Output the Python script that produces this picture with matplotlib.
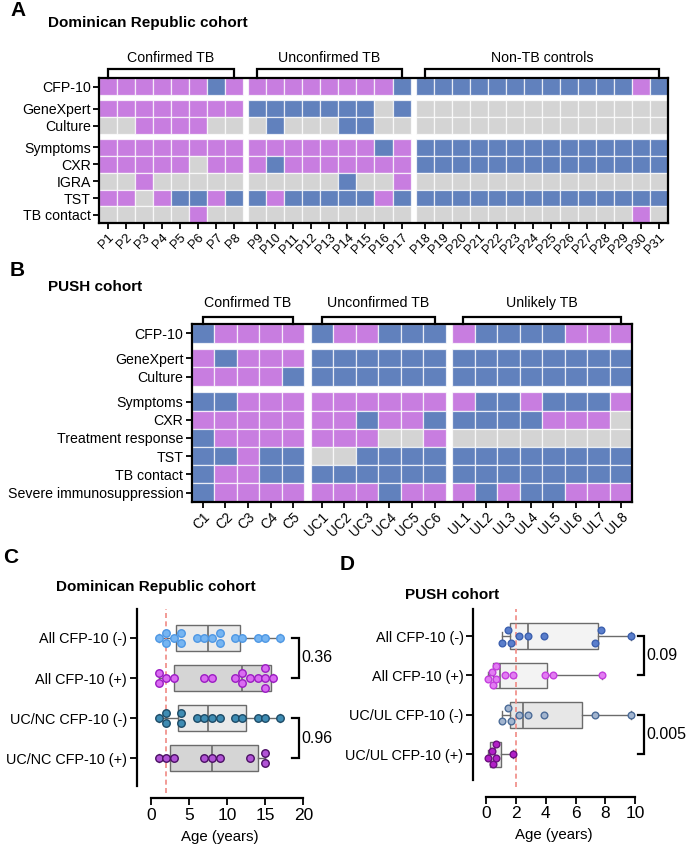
import numpy as np
import matplotlib

matplotlib.use("Agg")
import matplotlib.pyplot as plt
from matplotlib.patches import Rectangle

plt.rcParams["font.family"] = ["Liberation Sans", "DejaVu Sans"]

W, H = 688, 851

# ---------------- A: Dominican Republic heatmap ----------------
dr_patients = [f"P{i}" for i in range(1, 32)]
dr_groups = ["Confirmed TB", "Unconfirmed TB", "Non-TB controls"]
dr_group_sizes = [8, 9, 14]
dr_features = ["CFP-10", "GeneXpert", "Culture", "Symptoms", "CXR", "IGRA", "TST", "TB contact"]
dr_feature_blocks = [1, 2, 5]
# "+" positive, "-" negative, "." not done; patient groups split by spaces
dr_status = [
    "++++++-+ ++++++++- ------------+-",
    "++++++++ -------.- ..............",
    "..++++.. .-...--.. ..............",
    "++++++++ +++++++-+ --------------",
    "+++++.++ +-+++++++ --------------",
    "..+..... .....-..+ ..............",
    "++.+--+- -+-----+- --------------",
    ".....+.. ......... ............+.",
]

# ---------------- B: PUSH heatmap ----------------
push_patients = ["C1", "C2", "C3", "C4", "C5",
                 "UC1", "UC2", "UC3", "UC4", "UC5", "UC6",
                 "UL1", "UL2", "UL3", "UL4", "UL5", "UL6", "UL7", "UL8"]
push_groups = ["Confirmed TB", "Unconfirmed TB", "Unlikely TB"]
push_group_sizes = [5, 6, 8]
push_features = ["CFP-10", "GeneXpert", "Culture", "Symptoms", "CXR", "Treatment response",
                 "TST", "TB contact", "Severe immunosuppression"]
push_feature_blocks = [1, 2, 6]
push_status = [
    "-++++ -++--- +----+++",
    "+-+++ ------ --------",
    "++++- ------ --------",
    "--+++ ++++++ +--+---+",
    "+++++ ++-++- ----+++.",
    "-++++ +++..+ ........",
    "--+-- ..---- --------",
    "-++-- ------ --------",
    "-++++ +++-++ +-+--+++",
]

# ---------------- C: Dominican Republic ages ----------------
dr_box_labels = ["All CFP-10 (-)", "All CFP-10 (+)", "UC/NC CFP-10 (-)", "UC/NC CFP-10 (+)"]
dr_all_neg = [1, 2, 2, 3, 4, 4, 6, 7, 8, 9, 9, 11, 12, 14, 15, 17]
dr_all_pos = [1, 1, 2, 3, 7, 8, 11, 12, 12, 13, 14, 15, 15, 15, 16]
dr_ucnc_neg = [1, 2, 2, 4, 4, 6, 7, 8, 9, 11, 12, 14, 15, 17]
dr_ucnc_pos = [1, 2, 3, 7, 8, 9, 13, 15, 15]
dr_q1 = [3.25, 3.0, 3.5, 2.5]
dr_median = [7.5, 12.0, 7.5, 8.0]
dr_q3 = [11.75, 15.7, 12.5, 14.0]
dr_pvalues = ["0.36", "0.96"]

# ---------------- D: PUSH ages ----------------
push_box_labels = ["All CFP-10 (-)", "All CFP-10 (+)", "UC/UL CFP-10 (-)", "UC/UL CFP-10 (+)"]
push_all_neg = [1.09, 1.5, 1.67, 2.21, 2.79, 3.88, 7.3, 7.7, 9.71]
push_all_pos = [0.16, 0.38, 0.49, 0.67, 0.67, 1.27, 1.83, 3.95, 4.47, 7.79]
push_ucul_neg = [1.09, 1.5, 1.67, 2.21, 2.79, 3.88, 7.3, 9.71]
push_ucul_pos = [0.16, 0.38, 0.49, 0.67, 0.67, 1.83]
push_q1 = [1.6, 0.47, 1.6, 0.25]
push_median = [2.8, 0.97, 2.5, 0.58]
push_q3 = [7.5, 4.1, 6.45, 1.0]
push_pvalues = ["0.09", "0.005"]

CELL = {"+": "#C87DE0", "-": "#6181BD", ".": "#D4D4D4"}
BOXEDGE = "#6B6B6B"


def frac(x0, y0, x1, y1):
    return [x0 / W, 1 - y1 / H, (x1 - x0) / W, (y1 - y0) / H]


def heatmap(ax, status, features, blocks, labels, groups, sizes, gap_y, bracket_y, label_y, xfs):
    gap_x = 0.28
    xs = np.arange(len(labels)) + gap_x * np.repeat(np.arange(len(sizes)), sizes)
    ys = np.arange(len(features)) + gap_y * np.repeat(np.arange(len(blocks)), blocks)
    for r, row in enumerate(status):
        for c, code in enumerate(row.replace(" ", "")):
            ax.add_patch(Rectangle((xs[c], ys[r]), 1, 1, facecolor=CELL[code],
                                   edgecolor=(1, 1, 1, 0.75), lw=0.9))
    ax.set_xlim(0, xs[-1] + 1)
    ax.set_ylim(ys[-1] + 1, 0)
    ax.set_xticks(xs + 0.5, labels, rotation=45, ha="right", rotation_mode="anchor", fontsize=xfs)
    ax.set_yticks(ys + 0.5, features, fontsize=10.2)
    ax.tick_params(length=4, width=1.3, pad=2)
    for sp in ax.spines.values():
        sp.set_linewidth(1.6)
    starts = np.cumsum([0] + sizes[:-1])
    for name, s, n in zip(groups, starts, sizes):
        x0, x1 = xs[s] + 0.5, xs[s + n - 1] + 0.5
        ax.plot([x0, x0, x1, x1], [0, -bracket_y, -bracket_y, 0], color="k", lw=1.6,
                clip_on=False, solid_joinstyle="miter")
        ax.text((x0 + x1) / 2, -label_y, name, ha="center", va="center", fontsize=10.2)


def swarm(values, diam, spacing, span=0.5):
    v = np.sort(np.asarray(values, dtype=float))
    off = np.zeros(len(v))
    chains, cur = [], [0]
    for i in range(1, len(v)):
        if v[i] - v[i - 1] < diam:
            cur.append(i)
        else:
            chains.append(cur)
            cur = [i]
    chains.append(cur)
    for ch in chains:
        k = max(sum(1 for j in ch if 0 <= v[j] - v[i] < diam) for i in ch)
        if k == 1:
            continue
        step = min(spacing, span / (k - 1))
        slots = (np.arange(k) - (k - 1) / 2) * step
        order = sorted(range(k), key=lambda s: (abs(slots[s]), -slots[s]))
        placed = {s: [] for s in range(k)}
        for i in ch:
            for s in order:
                if all(abs(v[i] - v[j]) >= diam for j in placed[s]):
                    break
            else:
                s = min(order, key=lambda q: len(placed[q]))
            placed[s].append(i)
            off[i] = slots[s]
    return v, off


def box_panel(ax, samples, labels, q1, med, q3, face, edge, boxface, diam, spacing, ms,
              xlim, ticks, ylim, spine_out, pvals, bx, px):
    stats = [dict(med=m, q1=a, q3=b, whislo=min(s), whishi=max(s), fliers=[])
             for s, a, m, b in zip(samples, q1, med, q3)]
    art = ax.bxp(stats, positions=range(len(stats)), orientation="horizontal", widths=0.65,
                 patch_artist=True, showfliers=False, capwidths=0.2, zorder=2,
                 boxprops=dict(edgecolor=BOXEDGE, linewidth=1.0),
                 medianprops=dict(color=BOXEDGE, linewidth=1.2),
                 whiskerprops=dict(color=BOXEDGE, linewidth=1.0),
                 capprops=dict(color=BOXEDGE, linewidth=1.0))
    for patch, c in zip(art["boxes"], boxface):
        patch.set_facecolor(c)
    for i, s in enumerate(samples):
        v, off = swarm(s, diam, spacing)
        ax.plot(v, i + off, "o", ms=ms, mfc=face[i], mec=edge[i], mew=1.0, ls="none",
                zorder=4, clip_on=False)
    ax.axvline(2, ymin=-0.04, ymax=1, color="#F08A84", ls=(0, (3, 2)), lw=1.2, zorder=3,
               clip_on=False)
    ax.set_xlim(*xlim)
    ax.set_ylim(*ylim)
    ax.set_xticks(ticks)
    ax.set_yticks(range(len(labels)), labels)
    ax.spines[["top", "right"]].set_visible(False)
    ax.spines["bottom"].set_position(("outward", spine_out))
    ax.spines["bottom"].set_bounds(ticks[0], ticks[-1])
    for sp in ("left", "bottom"):
        ax.spines[sp].set_linewidth(1.6)
    ax.tick_params(axis="y", length=5, width=1.3, labelsize=10.4, pad=2)
    ax.tick_params(axis="x", length=5, width=1.3, labelsize=12.5, pad=2)
    ax.set_xlabel("Age (years)", fontsize=10.8, labelpad=5)
    for (r0, r1), p in zip([(0, 1), (2, 3)], pvals):
        ax.plot([bx[0], bx[1], bx[1], bx[0]], [r0, r0, r1, r1], color="k", lw=1.6,
                clip_on=False, solid_joinstyle="miter")
        ax.text(px, (r0 + r1) / 2, p, ha="left", va="center", fontsize=11.5, clip_on=False)


fig = plt.figure(figsize=(W / 100, H / 100), dpi=100)


def ftext(x, y, s, **kw):
    fig.text(x / W, 1 - y / H, s, **kw)


ax_a = fig.add_axes(frac(99, 78.3, 668, 223.3))
heatmap(ax_a, dr_status, dr_features, dr_feature_blocks, dr_patients, dr_groups,
        dr_group_sizes, 0.3, 0.55, 1.2, 9.3)

ax_b = fig.add_axes(frac(191.7, 324.3, 632.3, 501.7))
heatmap(ax_b, push_status, push_features, push_feature_blocks, push_patients, push_groups,
        push_group_sizes, 0.37, 0.42, 1.17, 9.8)

ax_c = fig.add_axes(frac(136.7, 609, 303.3, 786))
box_panel(ax_c, [dr_all_neg, dr_all_pos, dr_ucnc_neg, dr_ucnc_pos], dr_box_labels,
          dr_q1, dr_median, dr_q3,
          ["#76B5F2", "#DA6BF2", "#3F8CB3", "#B154D6"],
          ["#4E97E4", "#9A1BC2", "#1C4A66", "#4A0F63"],
          ["#EBEBEB", "#D5D5D5", "#EAEAEA", "#D5D5D5"],
          0.95, 0.25, 5.4, (-1.88, 20), [0, 5, 10, 15, 20], (3.69, -0.72), 8.9,
          dr_pvalues, (18.55, 19.43), 19.75)

ax_d = fig.add_axes(frac(473.3, 609, 635.3, 780))
box_panel(ax_d, [push_all_neg, push_all_pos, push_ucul_neg, push_ucul_pos], push_box_labels,
          push_q1, push_median, push_q3,
          ["#5A7ECC", "#E27DF2", "#A3B5CF", "#B21FC7"],
          ["#3C60AE", "#C43FDD", "#4C6C98", "#6D0F80"],
          ["#F3F3F3", "#F3F3F3", "#E7E7E7", "#E7E7E7"],
          0.47, 0.33, 4.8, (-0.85, 10), [0, 2, 4, 6, 8, 10], (3.65, -0.685), 12,
          push_pvalues, (10.16, 10.6), 10.76)

ftext(10, 10, "A", fontsize=15, fontweight="bold", va="center", ha="left")
ftext(48, 22.5, "Dominican Republic cohort", fontsize=11, fontweight="bold", va="center")
ftext(10, 270, "B", fontsize=15, fontweight="bold", va="center", ha="left")
ftext(48, 287, "PUSH cohort", fontsize=11, fontweight="bold", va="center")
ftext(3, 557.5, "C", fontsize=15, fontweight="bold", va="center", ha="left")
ftext(155.8, 586.7, "Dominican Republic cohort", fontsize=11, fontweight="bold",
      va="center", ha="center")
ftext(340, 564, "D", fontsize=15, fontweight="bold", va="center", ha="left")
ftext(451.7, 595, "PUSH cohort", fontsize=11, fontweight="bold", va="center", ha="center")

fig.savefig("out.png", dpi=100)
